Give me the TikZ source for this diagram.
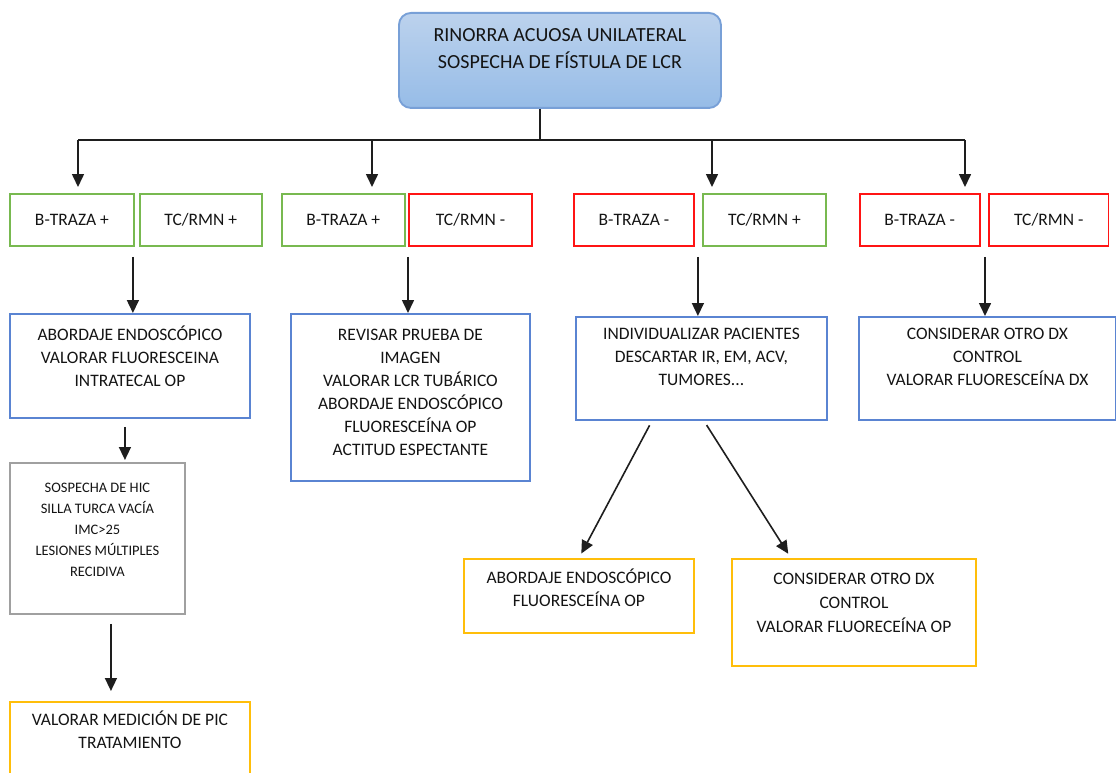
\documentclass[tikz,border=0pt]{standalone}
\usepackage{fontspec}
\setmainfont{Carlito}
\usetikzlibrary{arrows.meta}
\definecolor{topfillA}{RGB}{188,210,237}
\definecolor{topfillB}{RGB}{150,188,231}
\definecolor{topline}{RGB}{120,160,215}
\definecolor{bluel}{RGB}{90,132,210}
\definecolor{greenl}{RGB}{120,185,80}
\definecolor{redl}{RGB}{255,20,20}
\definecolor{grayl}{RGB}{160,160,160}
\definecolor{yell}{RGB}{255,190,10}
\definecolor{txtc}{RGB}{20,20,20}
\definecolor{linec}{RGB}{30,30,30}
\begin{document}
\begin{tikzpicture}[x=1pt,y=-1pt,
  bx/.style={draw, line width=1.9pt, anchor=north west, inner sep=0pt, text=txtc,
    font=\fontsize{17.5}{23}\selectfont},
  bluebox/.style={bx, draw=bluel},
  greenbox/.style={bx, draw=greenl},
  redbox/.style={bx, draw=redl},
  graybox/.style={bx, draw=grayl},
  yelbox/.style={bx, draw=yell},
  txt/.style={anchor=north, align=center, inner sep=0pt, text=txtc,
    font=\fontsize{17.5}{23}\selectfont},
  smalltxt/.style={txt, font=\fontsize{14.5}{21}\selectfont},
  line/.style={draw=linec, line width=1.6pt},
  arr/.style={line, -{Triangle[width=12pt,length=13pt]}}]
\useasboundingbox (0,0) rectangle (1116,773);

% top box
\node[bx, draw=topline, top color=topfillA, bottom color=topfillB, rounded corners=12pt,
  minimum width=322pt, minimum height=95pt] (top) at (398,12) {};
\node[txt, font=\fontsize{20}{27}\selectfont] (top-t) at ([yshift=-10.5pt]top.north)
  {\strut RINORRA ACUOSA UNILATERAL\\SOSPECHA DE FÍSTULA DE LCR};

% row of test boxes
\node[greenbox, minimum width=124pt, minimum height=52pt] (b1) at (9,193) {B-TRAZA +};
\node[greenbox, minimum width=122.4pt, minimum height=52pt] (b2) at (138.6,193) {TC/RMN +};
\node[greenbox, minimum width=122.6pt, minimum height=52pt] (b3) at (281,193) {B-TRAZA +};
\node[redbox, minimum width=123pt, minimum height=52pt] (b4) at (408,193) {TC/RMN -};
\node[redbox, minimum width=120pt, minimum height=52pt] (b5) at (573,193) {B-TRAZA -};
\node[greenbox, minimum width=123pt, minimum height=52pt] (b6) at (702,193) {TC/RMN +};
\node[redbox, minimum width=119.6pt, minimum height=52pt] (b7) at (859,193) {B-TRAZA -};
\node[redbox, minimum width=119.5pt, minimum height=52pt] (b8) at (988,193) {TC/RMN -};

% second level
\node[bluebox, minimum width=240pt, minimum height=104pt] (abord) at (9,313) {};
\node[txt] (abord-t) at ([yshift=-11.5pt]abord.north)
  {\strut ABORDAJE ENDOSCÓPICO\\VALORAR FLUORESCEINA\\INTRATECAL OP};
\node[bluebox, minimum width=239pt, minimum height=167pt] (revis) at (290,313) {};
\node[txt] (revis-t) at ([yshift=-11.5pt]revis.north)
  {\strut REVISAR PRUEBA DE\\IMAGEN\\VALORAR LCR TUBÁRICO\\ABORDAJE ENDOSCÓPICO\\FLUORESCEÍNA OP\\ACTITUD ESPECTANTE};
\node[bluebox, minimum width=251pt, minimum height=103pt] (indiv) at (575,316) {};
\node[txt] (indiv-t) at ([yshift=-7.5pt]indiv.north)
  {\strut INDIVIDUALIZAR PACIENTES\\DESCARTAR IR, EM, ACV,\\TUMORES...};
\node[bluebox, minimum width=257pt, minimum height=103pt] (cons) at (858,316) {};
\node[txt] (cons-t) at ([yshift=-7.5pt]cons.north)
  {\strut CONSIDERAR OTRO DX\\CONTROL\\VALORAR FLUORESCEÍNA DX};

% third level
\node[graybox, minimum width=175pt, minimum height=151pt] (gray) at (9,462) {};
\node[smalltxt] (gray-t) at ([yshift=-16pt]gray.north)
  {\strut SOSPECHA DE HIC\\SILLA TURCA VACÍA\\IMC>25\\LESIONES MÚLTIPLES\\RECIDIVA};
\node[yelbox, minimum width=240pt, minimum height=100pt] (pic) at (9,701) {};
\node[txt] (pic-t) at ([yshift=-8.5pt]pic.north)
  {\strut VALORAR MEDICIÓN DE PIC\\TRATAMIENTO};
\node[yelbox, minimum width=230pt, minimum height=74pt] (yab) at (463,558) {};
\node[txt] (yab-t) at ([yshift=-9.5pt]yab.north)
  {\strut ABORDAJE ENDOSCÓPICO\\FLUORESCEÍNA OP};
\node[yelbox, minimum width=244pt, minimum height=107pt] (ycon) at (731,558) {};
\node[txt, font=\fontsize{17.5}{24}\selectfont] (ycon-t) at ([yshift=-9.5pt]ycon.north)
  {\strut CONSIDERAR OTRO DX\\CONTROL\\VALORAR FLUORECEÍNA OP};

% top tree
\coordinate (j) at (540,140);
\coordinate (t1) at (78,140);
\coordinate (t2) at (372,140);
\coordinate (t3) at (712,140);
\coordinate (t4) at (965,140);
\draw[line] (top.south -| j) -- (j);
\draw[line] (t1) -- (t4);
\draw[arr, shorten >=6pt] (t1) -- (t1 |- b1.north);
\draw[arr, shorten >=6pt] (t2) -- (t2 |- b3.north);
\draw[arr, shorten >=6pt] (t3) -- (t3 |- b6.north);
\draw[arr, shorten >=6pt] (t4) -- (t4 |- b8.north);

% from pairs to second level
\draw[arr, shorten <=10pt] ([xshift=-2pt]b1.south east) -- ([xshift=-2pt]abord.north -| b1.south east);
\draw[arr, shorten <=10pt] (b4.south west) -- (abord.north -| b4.south west);
\draw[arr, shorten <=10pt] ([xshift=3pt]b5.south east) -- ([xshift=3pt]indiv.north -| b5.south east);
\draw[arr, shorten <=10pt] ([xshift=-3pt]b8.south west) -- ([xshift=-3pt]cons.north -| b8.south west);

% lower arrows
\draw[arr, shorten <=8pt, shorten >=2pt] ([xshift=-5pt]abord.south) -- ([xshift=-5pt]abord.south |- gray.north);
\draw[arr, shorten <=9pt, shorten >=10pt] ([xshift=13.5pt]gray.south) -- ([xshift=13.5pt]gray.south |- pic.north);
\draw[arr, shorten <=5pt, shorten >=5pt] ([xshift=-49.5pt]indiv.south) -- (yab.north);
\draw[arr, shorten <=5pt, shorten >=5pt] ([xshift=2.5pt]indiv.south) -- ([xshift=-63pt]ycon.north);
\end{tikzpicture}
\end{document}
